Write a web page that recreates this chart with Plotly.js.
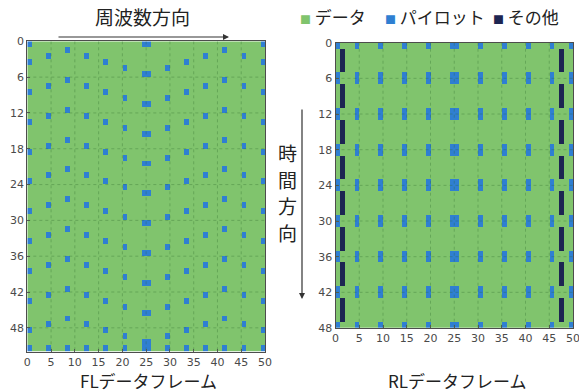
<!DOCTYPE html>
<html>
<head>
<meta charset="utf-8">
<script src="https://cdn.plot.ly/plotly-3.0.1.min.js"></script>
<style>
  html, body { margin: 0; padding: 0; background: #ffffff; }
  #chart { width: 579px; height: 391px; }
</style>
</head>
<body>
<div id="chart"></div>
<script>
// Grid sizes (subcarriers x symbols)
const flCols = 50, flRows = 52;
const rlCols = 50, rlRows = 48;

// Resource categories and their colours
const categories = ['データ', 'パイロット', 'その他'];
const categoryColors = ['#80c46d', '#2f7fd2', '#1d2552'];

// Axis ticks
const xTicks = [0, 5, 10, 15, 20, 25, 30, 35, 40, 45, 50];
const flYTicks = [0, 6, 12, 18, 24, 30, 36, 42, 48];
const rlYTicks = [0, 6, 12, 18, 24, 30, 36, 42, 48];

// FL frame: pilot subcarriers, and for each one the symbols that carry a pilot
const flPilotCols = [0, 4, 8, 12, 16, 20, 24, 25, 29, 33, 37, 41, 45, 49];
const flPilotRows = [
  [0, 3, 8, 13, 18, 23, 28, 33, 38, 43, 48, 51],
  [2, 7, 12, 17, 22, 27, 32, 37, 42, 47, 51],
  [1, 6, 11, 16, 21, 26, 31, 36, 41, 46, 51],
  [2, 7, 12, 17, 22, 27, 32, 37, 42, 47, 51],
  [3, 8, 13, 18, 23, 28, 33, 38, 43, 48, 51],
  [4, 9, 14, 19, 24, 29, 34, 39, 44, 49, 51],
  [0, 5, 10, 15, 20, 25, 30, 35, 40, 45, 50, 51],
  [0, 5, 10, 15, 20, 25, 30, 35, 40, 45, 50, 51],
  [4, 9, 14, 19, 24, 29, 34, 39, 44, 49, 51],
  [3, 8, 13, 18, 23, 28, 33, 38, 43, 48, 51],
  [2, 7, 12, 17, 22, 27, 32, 37, 42, 47, 51],
  [1, 6, 11, 16, 21, 26, 31, 36, 41, 46, 51],
  [2, 7, 12, 17, 22, 27, 32, 37, 42, 47, 51],
  [0, 3, 8, 13, 18, 23, 28, 33, 38, 43, 48, 51]
];

// RL frame: pilot subcarriers / symbols, and the other-signal subcarriers / symbols
const rlPilotCols = [0, 4, 9, 14, 19, 24, 25, 30, 35, 40, 45, 49];
const rlPilotRows = [0, 5, 6, 11, 12, 17, 18, 23, 24, 29, 30, 35, 36, 41, 42, 47];
const rlOtherCols = [1, 47];
const rlOtherRows = [1, 2, 3, 4, 7, 8, 9, 10, 13, 14, 15, 16, 19, 20, 21, 22,
                     25, 26, 27, 28, 31, 32, 33, 34, 37, 38, 39, 40, 43, 44, 45, 46];

// Category codes: 0 = data, 1 = pilot, 2 = other
function emptyGrid(rows, cols) {
  const z = [];
  for (let r = 0; r < rows; r++) z.push(new Array(cols).fill(0));
  return z;
}
function edges(n) {
  const e = [];
  for (let i = 0; i <= n; i++) e.push(i);
  return e;
}

const flZ = emptyGrid(flRows, flCols);
flPilotCols.forEach((c, i) => flPilotRows[i].forEach(r => { flZ[r][c] = 1; }));

const rlZ = emptyGrid(rlRows, rlCols);
rlPilotCols.forEach(c => rlPilotRows.forEach(r => { rlZ[r][c] = 1; }));
rlOtherCols.forEach(c => rlOtherRows.forEach(r => { rlZ[r][c] = 2; }));

const colorscale = [
  [0, categoryColors[0]], [0.333, categoryColors[0]],
  [0.334, categoryColors[1]], [0.666, categoryColors[1]],
  [0.667, categoryColors[2]], [1, categoryColors[2]]
];

function gridTrace(z, cols, rows, xa, ya) {
  return {
    type: 'heatmap', z: z, x: edges(cols), y: edges(rows),
    xaxis: xa, yaxis: ya, zmin: 0, zmax: 2,
    colorscale: colorscale, showscale: false, hoverinfo: 'skip'
  };
}

const W = 579, H = 391;
const px = v => v / W;
const py = v => 1 - v / H;

const tickFont = { family: 'DejaVu Sans, sans-serif', size: 11, color: '#4a4a4a' };
const jpFont = 'Noto Sans CJK JP, sans-serif';

function axisCommon(extra) {
  return Object.assign({
    showgrid: false, zeroline: false, showline: true, mirror: true,
    linecolor: '#4d4d4d', linewidth: 1,
    ticks: 'inside', ticklen: 3, tickcolor: '#5a5a5a',
    tickfont: tickFont, tickmode: 'array', fixedrange: true,
    ticklabeloverflow: 'allow'
  }, extra);
}

// Faint dotted grid drawn over the cells
const gridLine = { color: 'rgba(45,105,45,0.32)', width: 1, dash: 'dot' };
const gridShapes = [];
function addGrid(xref, yref, xt, yt, cols, rows) {
  xt.forEach(v => {
    if (v > 0 && v < cols) gridShapes.push({
      type: 'line', xref: xref, yref: yref, x0: v, x1: v, y0: 0, y1: rows,
      line: gridLine, layer: 'above'
    });
  });
  yt.forEach(v => {
    if (v > 0 && v < rows) gridShapes.push({
      type: 'line', xref: xref, yref: yref, x0: 0, x1: cols, y0: v, y1: v,
      line: gridLine, layer: 'above'
    });
  });
}
addGrid('x', 'y', xTicks, flYTicks, flCols, flRows);
addGrid('x2', 'y2', xTicks, rlYTicks, rlCols, rlRows);

// Legend built from the category list
const legendX = [298, 383, 491];
const annotations = categories.map((name, i) => ({
  xref: 'paper', yref: 'paper', x: px(legendX[i]), y: py(17),
  xanchor: 'left', yanchor: 'middle', showarrow: false,
  text: '<span style="color:' + categoryColors[i] + ';font-size:11px">■</span> ' + name,
  font: { family: jpFont, size: 17, color: '#222' }
}));

annotations.push(
  { xref: 'paper', yref: 'paper', x: px(142), y: py(17), xanchor: 'center', yanchor: 'middle',
    showarrow: false, text: '周波数方向', font: { family: jpFont, size: 19, color: '#222' } },
  { xref: 'paper', yref: 'paper', x: px(229), y: py(37), ax: -172, ay: 0, text: '',
    showarrow: true, arrowhead: 2, arrowsize: 1, arrowwidth: 1.2, arrowcolor: '#333' },
  { xref: 'paper', yref: 'paper', x: px(302), y: py(299), ax: 0, ay: -191, text: '',
    showarrow: true, arrowhead: 2, arrowsize: 1, arrowwidth: 1.2, arrowcolor: '#333' },
  { xref: 'paper', yref: 'paper', x: px(148), y: 0, xanchor: 'center', yanchor: 'bottom',
    height: 20, valign: 'middle', borderpad: 0,
    showarrow: false, text: 'FLデータフレーム', font: { family: jpFont, size: 17, color: '#222' } },
  { xref: 'paper', yref: 'paper', x: px(457), y: 0, xanchor: 'center', yanchor: 'bottom',
    height: 20, valign: 'middle', borderpad: 0,
    showarrow: false, text: 'RLデータフレーム', font: { family: jpFont, size: 17, color: '#222' } }
);
const timeChars = ['時', '間', '方', '向'];
const timeY = [153, 180, 206, 232];
timeChars.forEach((ch, i) => annotations.push({
  xref: 'paper', yref: 'paper', x: px(287), y: py(timeY[i]), xanchor: 'center', yanchor: 'middle',
  showarrow: false, text: ch, font: { family: jpFont, size: 19, color: '#222' }
}));

const layout = {
  width: W, height: H,
  margin: { l: 0, r: 0, t: 0, b: 0 },
  paper_bgcolor: '#ffffff', plot_bgcolor: '#ffffff',
  showlegend: false,
  xaxis: axisCommon({ domain: [px(27.3), px(265)], range: [0, flCols], tickvals: xTicks, anchor: 'y' }),
  yaxis: axisCommon({ domain: [py(351.7), py(41.3)], range: [flRows, 0], tickvals: flYTicks, anchor: 'x' }),
  xaxis2: axisCommon({ domain: [px(335.5), px(573)], range: [0, rlCols], tickvals: xTicks, anchor: 'y2' }),
  yaxis2: axisCommon({ domain: [py(328), py(42.7)], range: [rlRows, 0], tickvals: rlYTicks, anchor: 'x2' }),
  shapes: gridShapes,
  annotations: annotations
};

Plotly.newPlot('chart', [
  gridTrace(flZ, flCols, flRows, 'x', 'y'),
  gridTrace(rlZ, rlCols, rlRows, 'x2', 'y2')
], layout, { staticPlot: true, displayModeBar: false });
</script>
</body>
</html>
